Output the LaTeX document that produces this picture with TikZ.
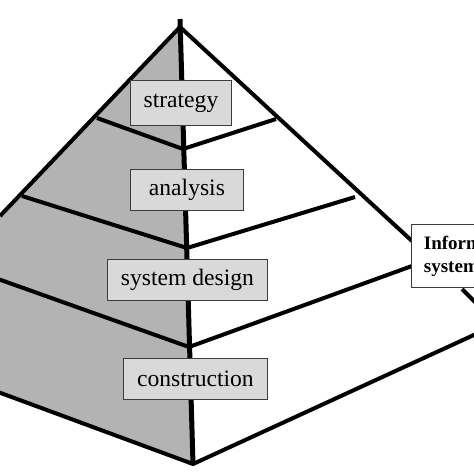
\documentclass[tikz,border=0pt]{standalone}
\usepackage{fontspec}
\setmainfont{Liberation Serif}
\definecolor{faceGray}{RGB}{179,179,179}
\definecolor{boxGray}{RGB}{217,217,217}
\definecolor{boxEdge}{RGB}{60,60,60}
\tikzset{
  edgeline/.style={line width=4pt, line cap=butt, line join=miter},
  midline/.style={line width=5pt},
  layerline/.style={line width=4pt},
  lbl/.style={draw=boxEdge, line width=0.9pt, fill=boxGray, inner sep=0pt, anchor=north west,
    font=\fontsize{23.6}{28}\selectfont},
  infobox/.style={draw=boxEdge, line width=0.9pt, fill=white, anchor=north west, align=left,
    inner xsep=12.5pt, inner ysep=0pt, minimum height=63pt,
    font=\fontsize{19}{23}\selectfont\bfseries}
}
\begin{document}
\begin{tikzpicture}[x=1pt,y=-1pt]
\useasboundingbox (0,0) rectangle (474,474);
\clip (0,0) rectangle (474,474);
% vertices
\coordinate (apex) at (180,27);
\coordinate (top) at (180,19);
\coordinate (bottom) at (193,464);
\coordinate (leftA) at (0,216);
\coordinate (leftB) at (0,393);
\coordinate (rightA) at (412,241);
\coordinate (rightAo) at (462,289);
\coordinate (rightAe) at (476,303);
\coordinate (rightB) at (476,334);
% layer points
\coordinate (c1) at (183,149);
\coordinate (l1) at (97,118);
\coordinate (r1) at (276,119);
\coordinate (c2) at (187,248);
\coordinate (l2) at (22,196);
\coordinate (r2) at (355,197);
\coordinate (c3) at (189,347);
\coordinate (l3) at (-2,279);
\coordinate (r3) at (412,266);
% gray face
\fill[faceGray] (apex) -- (leftA) -- (leftB) -- (bottom) -- cycle;
% outline
\draw[edgeline] (leftA) -- (apex) -- (rightA);
\draw[edgeline] (rightAo) -- (rightAe);
\draw[edgeline] (-2,392) -- (bottom) -- (rightB);
% layers
\draw[layerline] (l1) -- (c1) -- (r1);
\draw[layerline] (l2) -- (c2) -- (r2);
\draw[layerline] (l3) -- (c3) -- (r3);
% central edge
\draw[midline] (top) -- (bottom);
% labels
\node[lbl, minimum width=101pt, minimum height=45pt] (strategy) at (130,80) {strategy};
\node[lbl, minimum width=113pt, minimum height=41pt] (analysis) at (130,169) {analysis\hspace{11pt}};
\node[lbl, minimum width=160pt, minimum height=41pt] (design) at (107,259) {system design};
\node[lbl, minimum width=144pt, minimum height=41pt] (construction) at (123,358) {construction};
\node[infobox] (info) at (411,224) {Information\\systems};
\end{tikzpicture}
\end{document}
